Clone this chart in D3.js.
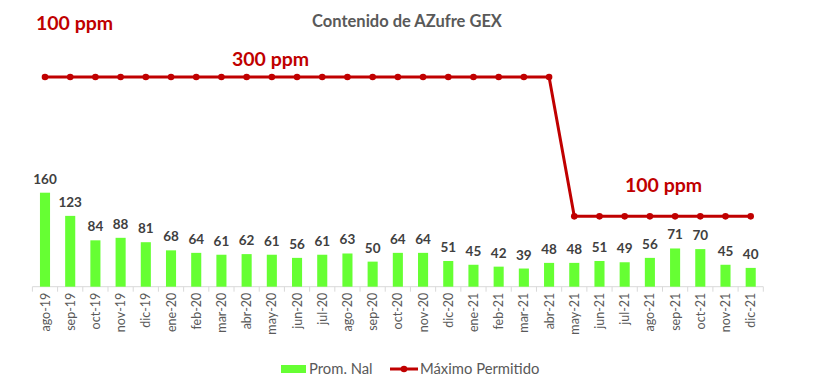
<!DOCTYPE html>
<html><head><meta charset="utf-8">
<script src="https://cdn.jsdelivr.net/npm/d3@7"></script>
<style>body{margin:0;background:#fff}svg{display:block;font-family:Lato,"Open Sans",sans-serif}</style>
</head><body><svg id="c" width="815" height="391"></svg>
<script>
const categories = ["ago-19","sep-19","oct-19","nov-19","dic-19","ene-20","feb-20","mar-20","abr-20","may-20","jun-20","jul-20","ago-20","sep-20","oct-20","nov-20","dic-20","ene-21","feb-21","mar-21","abr-21","may-21","jun-21","jul-21","ago-21","sep-21","oct-21","nov-21","dic-21"];
const promNal = [160,123,84,88,81,68,64,61,62,61,56,61,63,50,64,64,51,45,42,39,48,48,51,49,56,71,70,45,40];
const maximo = [300,300,300,300,300,300,300,300,300,300,300,300,300,300,300,300,300,300,300,300,300,100,100,100,100,100,100,100,100];
const title = "Contenido de AZufre GEX";
const seriesNames = ["Prom. Nal","Máximo Permitido"];

const svg = d3.select("#c");
const x = d3.scaleBand().domain(categories).range([32.4, 763.3]).paddingInner(0.6).paddingOuter(0.3);
const y1 = d3.scaleLinear().domain([10,160]).range([286.7,192.7]);
const y2 = d3.scaleLinear().domain([0,300]).range([286,77]);
const green = "#66FF33", red = "#C00000";

// title
svg.append("text").attr("x",407).attr("y",27).attr("text-anchor","middle")
  .attr("font-size",16.5).attr("font-weight","bold").attr("fill","#595959").text(title);

// x axis
const baseY = y1(10);
svg.append("line").attr("x1",32.4).attr("x2",763.3).attr("y1",baseY).attr("y2",baseY).attr("stroke","#d9d9d9").attr("stroke-width",1);
const step = x.step();
const bounds = d3.range(categories.length+1).map(i => 32.4 + i*step);
svg.selectAll(".tk").data(bounds).join("line").attr("x1",d=>d).attr("x2",d=>d)
  .attr("y1",baseY).attr("y2",baseY+5).attr("stroke","#d9d9d9");
svg.selectAll(".xl").data(categories).join("text")
  .attr("transform",d=>`translate(${x(d)+x.bandwidth()/2+4.5},${baseY+6}) rotate(-90)`)
  .attr("text-anchor","end").attr("font-size",12.5).attr("fill","#595959").text(d=>d);

// bars
svg.selectAll(".bar").data(promNal).join("rect")
  .attr("x",(d,i)=>x(categories[i])).attr("width",x.bandwidth())
  .attr("y",d=>y1(d)).attr("height",d=>baseY-y1(d)).attr("fill",green);
svg.selectAll(".bl").data(promNal).join("text")
  .attr("x",(d,i)=>x(categories[i])+x.bandwidth()/2).attr("y",d=>y1(d)-9)
  .attr("text-anchor","middle").attr("font-size",13.5).attr("font-weight","bold").attr("fill","#404040").text(d=>d);

// line
const line = d3.line().x((d,i)=>x(categories[i])+x.bandwidth()/2).y(d=>y2(d));
svg.append("path").datum(maximo).attr("d",line).attr("fill","none").attr("stroke",red).attr("stroke-width",3);
svg.selectAll(".dot").data(maximo).join("circle")
  .attr("cx",(d,i)=>x(categories[i])+x.bandwidth()/2).attr("cy",d=>y2(d)).attr("r",3.3).attr("fill",red);

// annotations
const ann = [["100 ppm",36,30],["300 ppm",232,66],["100 ppm",625,192]];
svg.selectAll(".ann").data(ann).join("text").attr("x",d=>d[1]).attr("y",d=>d[2])
  .attr("font-size",19.5).attr("font-weight","bold").attr("fill",red).text(d=>d[0]);

// legend
svg.append("rect").attr("x",281).attr("y",365).attr("width",25).attr("height",8).attr("fill",green);
svg.append("text").attr("x",309).attr("y",374).attr("font-size",14.8).attr("fill","#595959").text(seriesNames[0]);
svg.append("line").attr("x1",390).attr("x2",418).attr("y1",369).attr("y2",369).attr("stroke",red).attr("stroke-width",3);
svg.append("circle").attr("cx",404).attr("cy",369).attr("r",3.3).attr("fill",red);
svg.append("text").attr("x",420).attr("y",374).attr("font-size",14.8).attr("fill","#595959").text(seriesNames[1]);
</script></body></html>
